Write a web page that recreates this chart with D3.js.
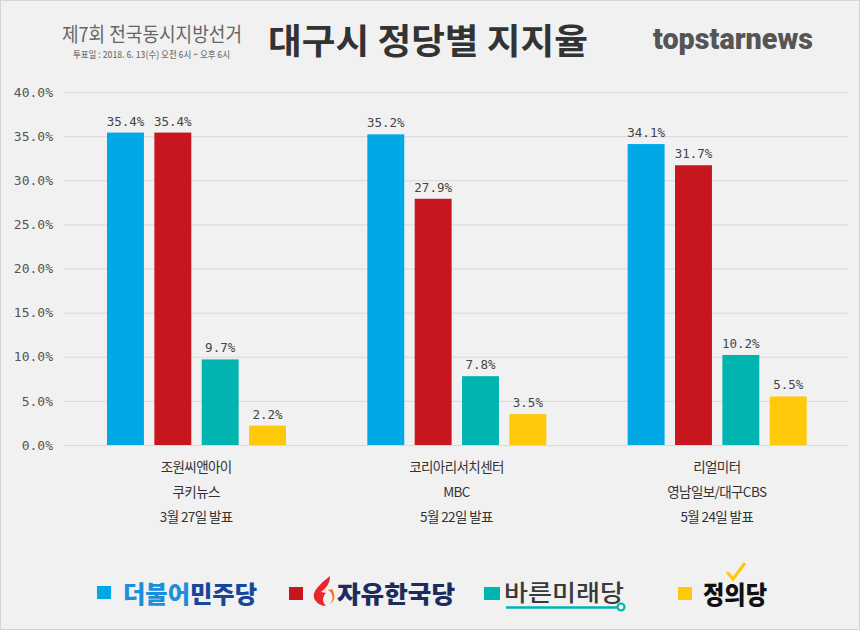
<!DOCTYPE html>
<html><head><meta charset="utf-8">
<script src="https://cdn.jsdelivr.net/npm/d3@7"></script>
<style>
html,body{margin:0;padding:0;background:#f1f1f1;}
svg{display:block;}
</style></head>
<body>
<svg id="c" width="860" height="630"></svg>
<script>
const pollsters = ["조원씨앤아이", "코리아리서치센터", "리얼미터"];
const media = ["쿠키뉴스", "MBC", "영남일보/대구CBS"];
const dates = ["3월 27일 발표", "5월 22일 발표", "5월 24일 발표"];
const parties = ["더불어민주당", "자유한국당", "바른미래당", "정의당"];
const colors = ["#00a9e6", "#c8161e", "#00b4af", "#ffc808"];
const minjoo = [35.4, 35.2, 34.1];
const hankook = [35.4, 27.9, 31.7];
const bareun = [9.7, 7.8, 10.2];
const jeongui = [2.2, 3.5, 5.5];
const yTicks = [0, 5, 10, 15, 20, 25, 30, 35, 40];

const series = [minjoo, hankook, bareun, jeongui];
const svg = d3.select("#c");
const W = 860, H = 630;

svg.append("rect").attr("x", 0.5).attr("y", 0.5).attr("width", W - 1).attr("height", H - 1)
  .attr("fill", "#f1f1f1").attr("stroke", "#d4d4d4");

function fit(sel, len) { return sel.attr("textLength", len).attr("lengthAdjust", "spacingAndGlyphs"); }

// Header
fit(svg.append("text").attr("x", 62).attr("y", 42).attr("font-family", "Noto Sans CJK KR")
  .attr("font-size", 20).attr("fill", "#666").text("제7회 전국동시지방선거"), 180);
fit(svg.append("text").attr("x", 73).attr("y", 58).attr("font-family", "Noto Sans CJK KR")
  .attr("font-size", 9.5).attr("font-weight", 500).attr("fill", "#777").text("투표일 : 2018. 6. 13(수) 오전 6시 ~ 오후 6시"), 157);
fit(svg.append("text").attr("x", 268).attr("y", 54).attr("font-family", "Noto Sans CJK KR")
  .attr("font-weight", 700).attr("font-size", 35).attr("fill", "#333").text("대구시 정당별 지지율"), 320);
fit(svg.append("text").attr("x", 653).attr("y", 49).attr("font-family", "Roboto, Arial")
  .attr("font-weight", 900).attr("font-size", 30).attr("fill", "#555").text("topstarnews"), 160);

// Scales
const y = d3.scaleLinear().domain([0, 40]).range([445, 92]);
const x0 = d3.scaleBand().domain(d3.range(pollsters.length)).range([66, 847]);
const x1 = d3.scaleBand().domain(d3.range(parties.length)).range([41, 220]).paddingInner(0.22);

// Grid + y axis
const yAxis = d3.axisLeft(y).tickValues(yTicks).tickSize(-(848 - 64)).tickFormat(d => d3.format(".1f")(d) + "%");
const ga = svg.append("g").attr("transform", "translate(64,0)").call(yAxis);
ga.select(".domain").remove();
ga.selectAll(".tick line").attr("stroke", "#d9d9d9").attr("stroke-width", 1);
ga.selectAll(".tick text").attr("x", -11).attr("font-family", "DejaVu Sans Mono, monospace")
  .attr("font-size", 13).attr("fill", "#555");

// Bars
const groups = svg.append("g").selectAll("g").data(pollsters).join("g")
  .attr("transform", (d, i) => `translate(${x0(i)},0)`);
groups.each(function (d, gi) {
  const g = d3.select(this);
  series.forEach((s, si) => {
    g.append("rect").attr("x", x1(si)).attr("width", x1.bandwidth())
      .attr("y", y(s[gi])).attr("height", y(0) - y(s[gi])).attr("fill", colors[si]);
    g.append("text").attr("x", x1(si) + x1.bandwidth() / 2).attr("y", y(s[gi]) - 7)
      .attr("text-anchor", "middle").attr("font-family", "DejaVu Sans Mono, monospace")
      .attr("font-size", 12.5).attr("fill", "#444").text(s[gi].toFixed(1) + "%");
  });
  const cx = x0.bandwidth() / 2;
  [pollsters[gi], media[gi], dates[gi]].forEach((t, li) => {
    g.append("text").attr("x", cx).attr("y", 472 + li * 25).attr("text-anchor", "middle")
      .attr("font-family", "Noto Sans CJK KR").attr("font-size", 13.5).attr("fill", "#333")
      .attr("letter-spacing", -0.6).text(t);
  });
});

// Legend
const legX = [97, 289, 484, 678];
const lg = svg.append("g");
parties.forEach((p, i) => {
  lg.append("rect").attr("x", legX[i]).attr("y", i === 0 ? 586 : 587).attr("width", i === 2 ? 16 : 14).attr("height", 13).attr("fill", colors[i]);
});
// 더불어민주당
const t0 = fit(lg.append("text").attr("x", 123).attr("y", 603).attr("font-family", "Noto Sans CJK KR")
  .attr("font-weight", 900).attr("font-size", 24), 134);
t0.append("tspan").attr("fill", "#1b8fdc").text("더불어");
t0.append("tspan").attr("fill", "#15479b").text("민주당");
// 자유한국당 flame
lg.append("path").attr("d", "M330,576 C320,584 312,591 314,598 C316,603 321,606 326,606 C322,602 322,597 326,593 L321,592 C326,588 330,584 330,576 Z")
  .attr("fill", "#e8262b");
lg.append("path").attr("d", "M328,590 C333,593 334,599 330,604 C335,601 336,595 332,589 Z").attr("fill", "#f47a20");
fit(lg.append("text").attr("x", 337).attr("y", 603).attr("font-family", "Noto Sans CJK KR")
  .attr("font-weight", 900).attr("font-size", 24).attr("fill", "#1d2c5c").text(parties[1]), 118);
// 바른미래당
fit(lg.append("text").attr("x", 504).attr("y", 601).attr("font-family", "Noto Sans CJK KR")
  .attr("font-weight", 500).attr("font-size", 23).attr("fill", "#3a3a3a").text(parties[2]), 120);
lg.append("line").attr("x1", 506).attr("x2", 617).attr("y1", 607.5).attr("y2", 607.5).attr("stroke", colors[2]).attr("stroke-width", 2.5);
lg.append("circle").attr("cx", 621).attr("cy", 607).attr("r", 3.5).attr("fill", "none").attr("stroke", colors[2]).attr("stroke-width", 2.2);
// 정의당
fit(lg.append("text").attr("x", 703).attr("y", 604).attr("font-family", "Noto Sans CJK KR")
  .attr("font-weight", 900).attr("font-size", 25).attr("fill", "#111").text(parties[3]), 64);
lg.append("path").attr("d", "M727,572 L733,579 L745,563").attr("fill", "none").attr("stroke", colors[3]).attr("stroke-width", 3);
</script>
</body></html>
